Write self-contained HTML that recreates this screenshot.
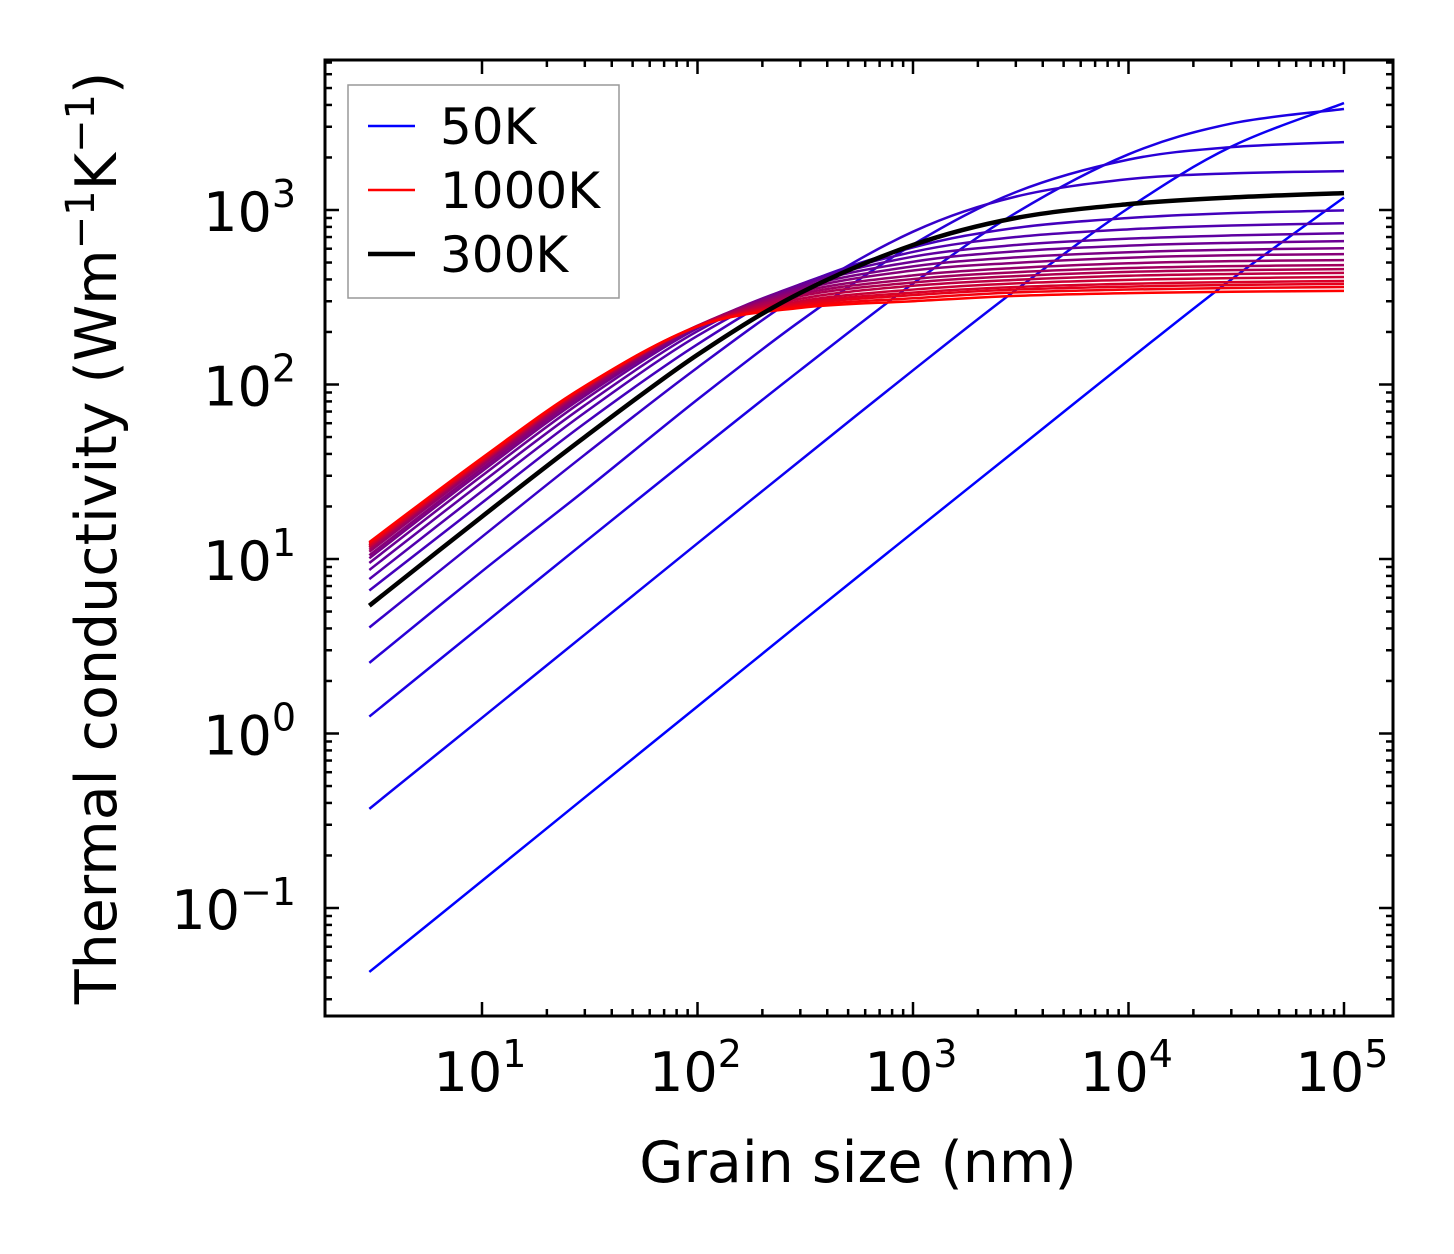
<!DOCTYPE html>
<html><head><meta charset="utf-8"><style>
html,body{margin:0;padding:0;background:#fff}
svg{display:block;font-family:"DejaVu Sans","Liberation Sans",sans-serif}
</style></head><body>
<svg id="chart" width="1454" height="1254" viewBox="0 0 1454 1254" xmlns="http://www.w3.org/2000/svg">
<rect width="1454" height="1254" fill="#fff"/>
<g id="ticks"></g>
<g id="series"></g>
<rect x="325" y="60" width="1068" height="956" fill="none" stroke="#000" stroke-width="3"/>
<g id="labels" font-size="54" fill="#000"></g>
<text x="858" y="1182" font-size="57" text-anchor="middle">Grain size (nm)</text>
<text transform="translate(116,538) rotate(-90)" font-size="57" text-anchor="middle">Thermal conductivity (Wm<tspan dy="-22" font-size="40">−1</tspan><tspan dy="22">K</tspan><tspan dy="-22" font-size="40">−1</tspan><tspan dy="22">)</tspan></text>
<g>
<rect x="348" y="85" width="271" height="213" fill="#fff" stroke="#999" stroke-width="1.5"/>
<line x1="368" y1="126" x2="415" y2="126" stroke="#0000ff" stroke-width="2.5"/>
<text x="440" y="144" font-size="50">50K</text>
<line x1="368" y1="190" x2="415" y2="190" stroke="#ff0000" stroke-width="2.5"/>
<text x="440" y="208" font-size="50">1000K</text>
<line x1="368" y1="254" x2="415" y2="254" stroke="#000" stroke-width="4.5"/>
<text x="440" y="272" font-size="50">300K</text>
</g>
</svg>
<script>
const grainSizes = [3, 10, 30, 100, 300, 1000, 3000, 10000, 30000, 100000];
const c01 = [0.043, 0.143, 0.43, 1.43, 4.3, 14.2, 42, 138, 400, 1180];
const c02 = [0.37, 1.23, 3.69, 12.3, 36.7, 120.6, 348, 1025, 2306, 4100];
const c03 = [1.25, 4.17, 12.5, 41.3, 121, 379, 962, 2085, 3128, 3790];
const c04 = [2.54, 8.5, 24.7, 82, 231, 634, 1266, 1943, 2293, 2447];
const c05 = [4.05, 13.4, 39.6, 125, 327, 751, 1193, 1502, 1622, 1669];
const c06 = [6.6, 21, 60, 170, 370, 610, 790, 900, 960, 995];
const c07 = [7.67, 24.5, 69, 190, 375, 575, 700, 775, 815, 839];
const c08 = [8.65, 27.5, 76, 202, 375, 540, 630, 685, 715, 736];
const c09 = [9.49, 30, 82, 210, 370, 505, 580, 625, 648, 663];
const c10 = [10.1, 31.8, 86, 214, 360, 475, 535, 573, 592, 604];
const c11 = [10.5, 33, 89, 216, 350, 450, 498, 533, 550, 559];
const c12 = [11.0, 34.3, 91.5, 217, 340, 422, 465, 495, 509, 516];
const c13 = [11.3, 35.2, 93, 217, 330, 402, 440, 465, 477, 483];
const c14 = [11.6, 35.8, 94, 217, 321, 384, 418, 442, 452, 458];
const c15 = [11.7, 36, 95, 216, 310, 368, 398, 420, 430, 436];
const c16 = [11.9, 36.5, 96, 216, 300, 350, 380, 398, 407, 413];
const c17 = [12.0, 36.8, 96.5, 216, 293, 336, 362, 378, 386, 392];
const c18 = [12.2, 37.2, 97, 215, 287, 325, 350, 364, 372, 377];
const c19 = [12.4, 37.6, 97.5, 215, 281, 312, 337, 350, 357, 362];
const c20 = [12.5, 38, 98, 215, 275, 300, 322, 334, 340, 344];
const k300 = [5.4, 17.5, 50, 148, 335, 630, 900, 1080, 1180, 1250];
const colored = [c01,c02,c03,c04,c05,c06,c07,c08,c09,c10,c11,c12,c13,c14,c15,c16,c17,c18,c19,c20];
const xTickExps = [1, 2, 3, 4, 5];
const yTickExps = [-1, 0, 1, 2, 3];

const NS = "http://www.w3.org/2000/svg";
const X0 = 325, X1 = 1393, Y0 = 60, Y1 = 1016;
const xl0 = 1 - (482 - 325) / 215.5, xl1 = 5 + 49 / 215.5;
const yl1 = 3 + 150 / 174.5, yl0 = -1 - 108 / 174.5;
function xs(v){ return X0 + (Math.log10(v) - xl0) / (xl1 - xl0) * (X1 - X0); }
function ys(v){ return Y1 - (Math.log10(v) - yl0) / (yl1 - yl0) * (Y1 - Y0); }
function mk(tag, attrs, parent){ const e = document.createElementNS(NS, tag); for (const k in attrs) e.setAttribute(k, attrs[k]); parent.appendChild(e); return e; }

function pathFor(vals){
  const p = grainSizes.map((g,i)=>[xs(g), ys(vals[i])]);
  let d = `M${p[0][0].toFixed(2)},${p[0][1].toFixed(2)}`;
  for (let i=0;i<p.length-1;i++){
    const a=p[Math.max(0,i-1)], b=p[i], c=p[i+1], e=p[Math.min(p.length-1,i+2)];
    const c1=[b[0]+(c[0]-a[0])/6, b[1]+(c[1]-a[1])/6];
    const c2=[c[0]-(e[0]-b[0])/6, c[1]-(e[1]-b[1])/6];
    d += ` C${c1[0].toFixed(2)},${c1[1].toFixed(2)} ${c2[0].toFixed(2)},${c2[1].toFixed(2)} ${c[0].toFixed(2)},${c[1].toFixed(2)}`;
  }
  return d;
}

const series = document.getElementById('series');
colored.forEach((vals, i) => {
  const t = i / (colored.length - 1);
  const el = mk('path', {d: pathFor(vals), fill:'none', stroke:`rgb(${Math.round(255*t)},0,${Math.round(255*(1-t))})`, 'stroke-width':2.5}, series);
  
  
});
const blk = mk('path', {d: pathFor(k300), fill:'none', stroke:'#000', 'stroke-width':4.5}, series);



const ticks = document.getElementById('ticks');
const labels = document.getElementById('labels');
function tick(x1,y1,x2,y2){ const t = mk('line',{x1,y1,x2,y2,stroke:'#000','stroke-width':2.5},ticks);
  
   }
for (let e=1;e<=5;e++){ for (let m=1;m<10;m++){
  const v = m*Math.pow(10,e); const x = xs(v); if (x<X0||x>X1) continue;
  const L = m===1?14:7; tick(x,Y1,x,Y1-L); tick(x,Y0,x,Y0+L);
}}
for (let e=-2;e<=3;e++){ for (let m=1;m<10;m++){
  const v = m*Math.pow(10,e); const y = ys(v); if (y<Y0||y>Y1) continue;
  const L = m===1?14:7; tick(X0,y,X0+L,y); tick(X1,y,X1-L,y);
}}
xTickExps.forEach(e => {
  const t = mk('text',{x:xs(Math.pow(10,e))-2,y:1091,'text-anchor':'middle'},labels);
  
  
  t.innerHTML = `10<tspan dy="-24" font-size="38">${e<0?'−'+(-e):e}</tspan>`;
});
yTickExps.forEach(e => {
  const t = mk('text',{x:296,y:ys(Math.pow(10,e))+21,'text-anchor':'end'},labels);
  
  
  t.innerHTML = `10<tspan dy="-24" font-size="38">${e<0?'−'+(-e):e}</tspan>`;
});
</script>
</body></html>
